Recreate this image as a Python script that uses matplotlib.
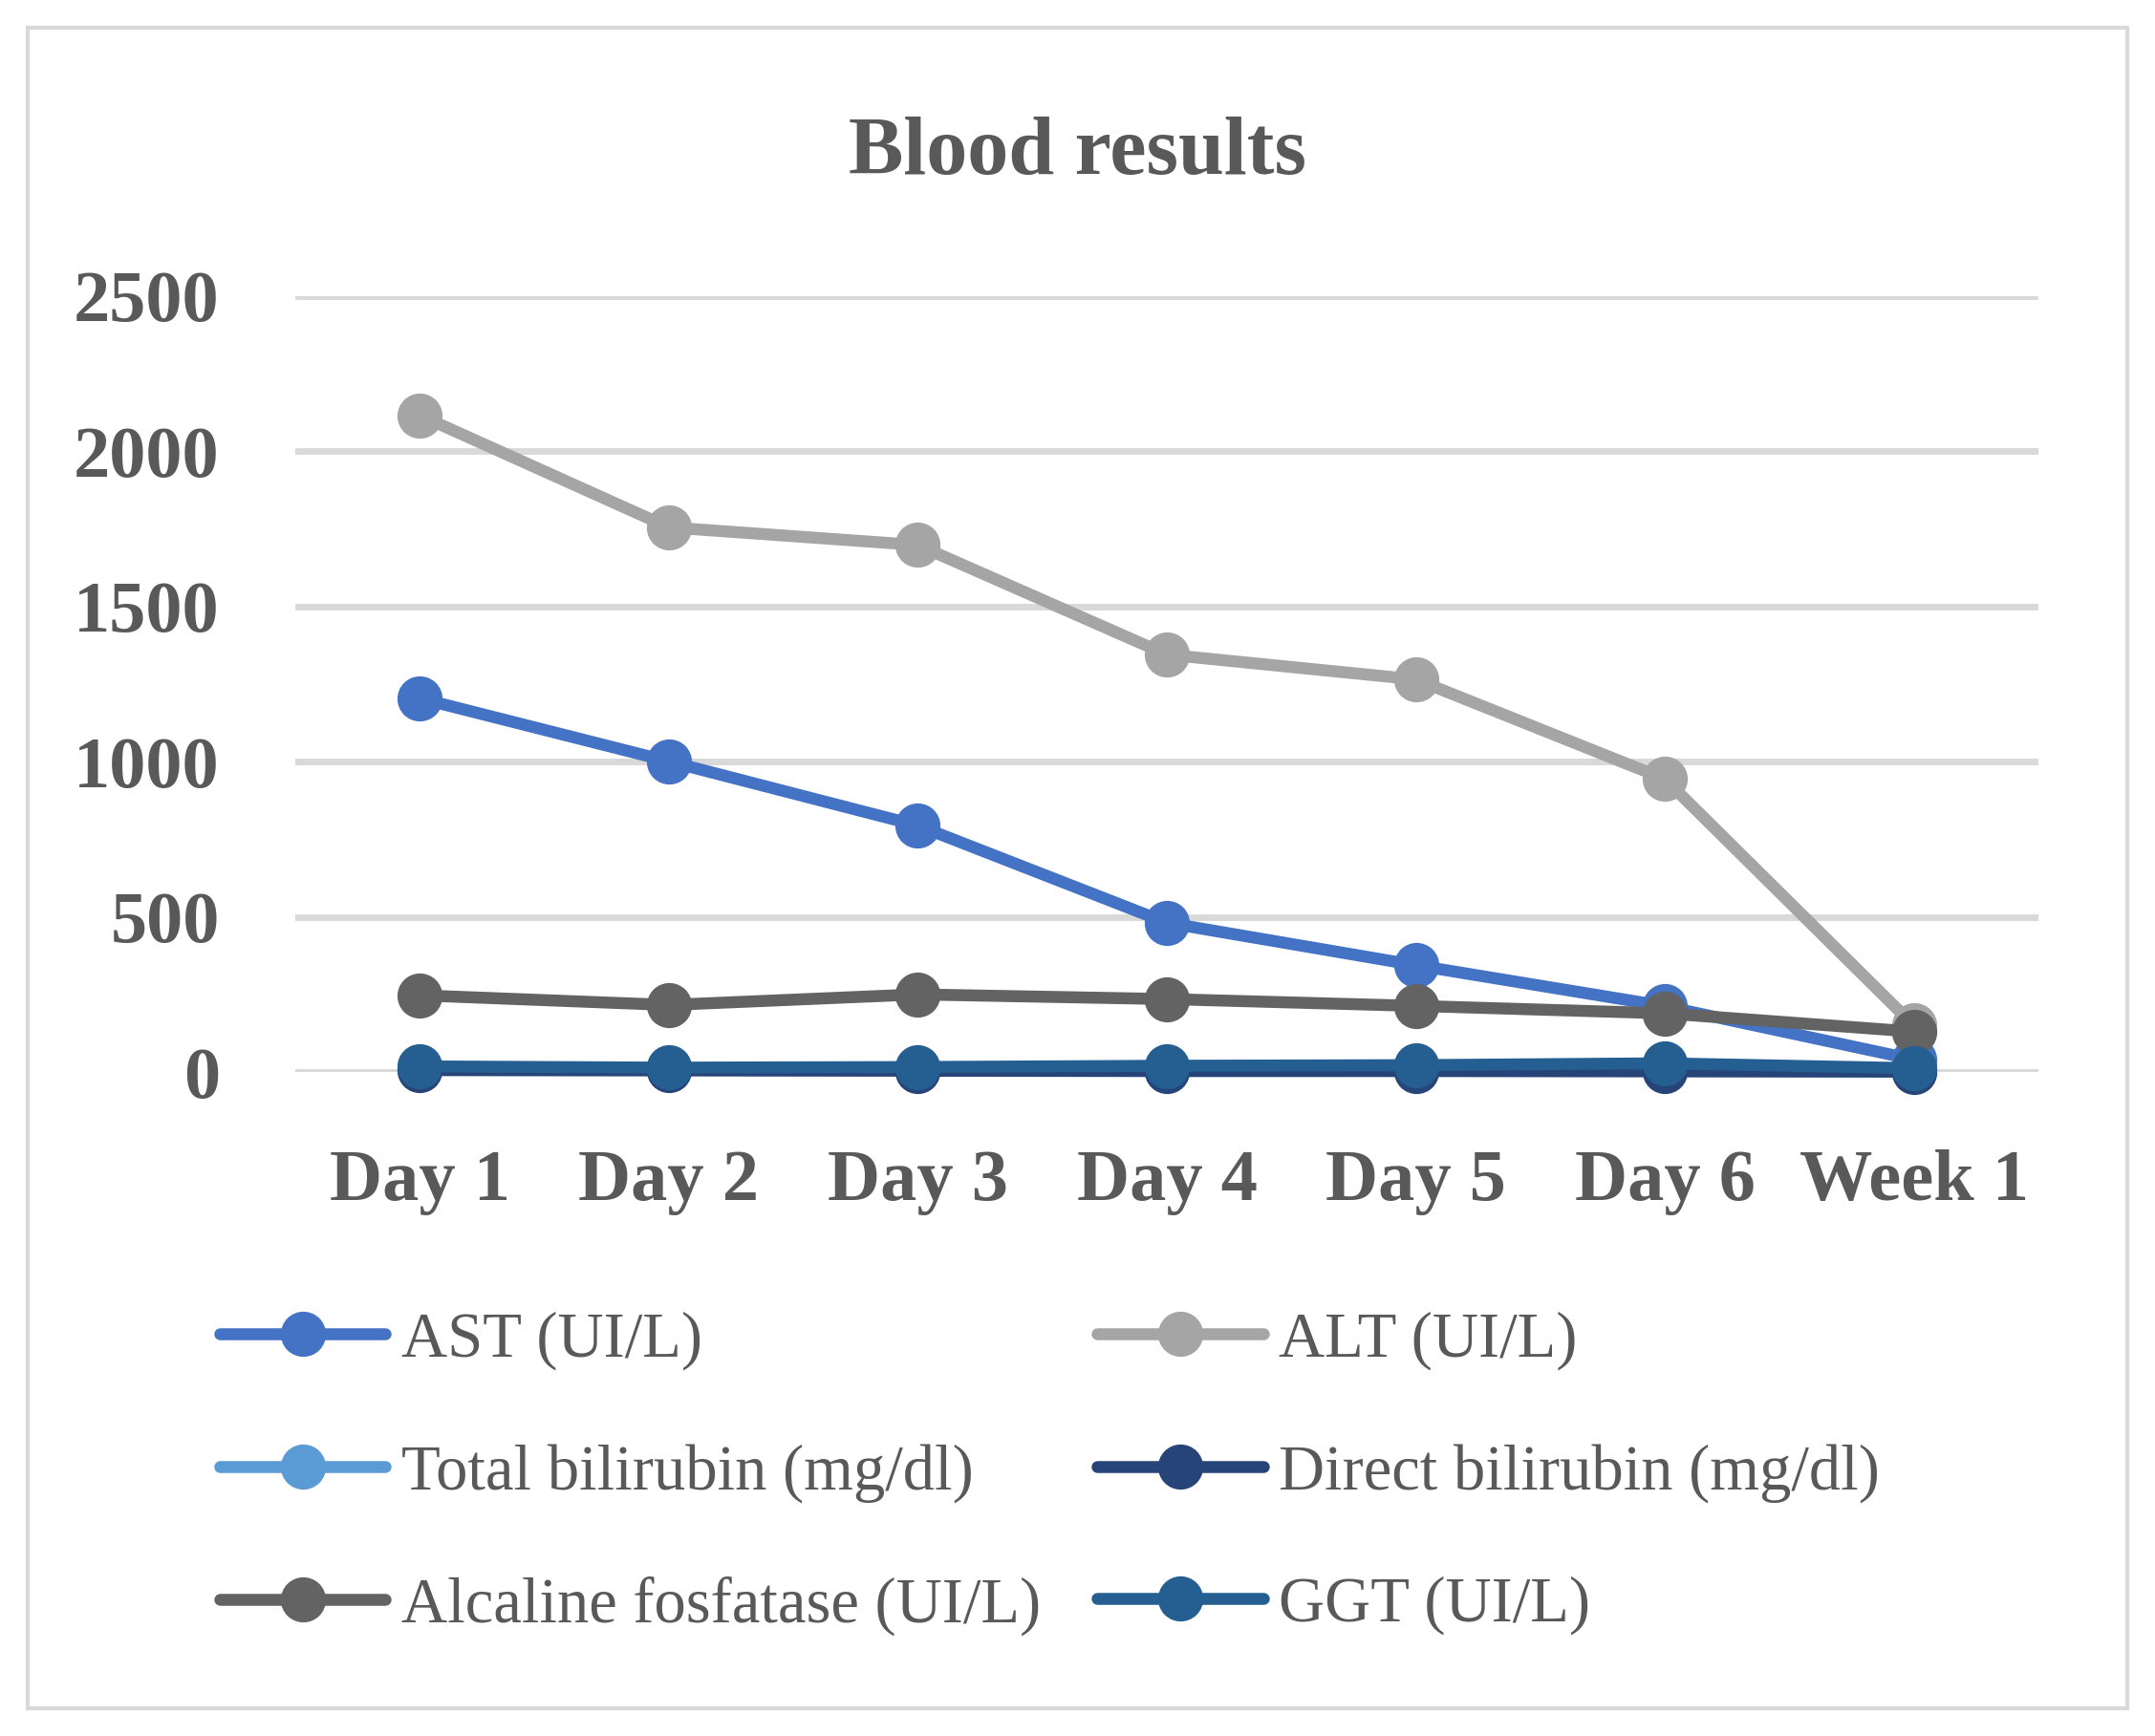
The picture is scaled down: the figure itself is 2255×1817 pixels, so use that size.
import matplotlib.pyplot as plt
from matplotlib.patches import Rectangle

# datos
dias = ['Day 1', 'Day 2', 'Day 3', 'Day 4', 'Day 5', 'Day 6', 'Week 1']
ast = [1204, 1001, 794, 481, 344, 212, 40]
alt = [2116, 1755, 1698, 1345, 1265, 944, 150]
bili_total = [10, 8, 7, 6, 6, 5, 2]
bili_directa = [6, 5, 4, 3, 3, 2, 1]
fosfatasa = [247, 216, 250, 235, 213, 189, 130]
ggt = [18, 14, 16, 20, 22, 28, 12]

series = [
    ('AST (UI/L)', ast, '#4472C4'),
    ('ALT (UI/L)', alt, '#A5A5A5'),
    ('Total bilirubin (mg/dl)', bili_total, '#5B9BD5'),
    ('Direct bilirubin (mg/dl)', bili_directa, '#264478'),
    ('Alcaline fosfatase (UI/L)', fosfatasa, '#636363'),
    ('GGT (UI/L)', ggt, '#255E91'),
]

gris = '#595959'
plt.rcParams['font.family'] = ['Liberation Serif', 'DejaVu Serif']

fig = plt.figure(figsize=(22.55, 18.17), dpi=100)
ax = fig.add_axes([309 / 2255, 1 - 1122 / 1817, 1824 / 2255, 812 / 1817])

x = list(range(len(dias)))
lineas = []
for nombre, valores, color in series:
    l, = ax.plot(x, valores, color=color, lw=9, marker='o', markersize=33,
                 label=nombre, clip_on=False, solid_capstyle='round', zorder=3)
    lineas.append(l)

ax.set_xlim(-0.5, len(dias) - 0.5)
ax.set_ylim(0, 2500)
ax.set_yticks([0, 500, 1000, 1500, 2000, 2500])
ax.set_xticks(x)
ax.set_xticklabels(dias)
ax.yaxis.grid(True, color='#D9D9D9', lw=5)
ax.set_axisbelow(True)
for s in ax.spines.values():
    s.set_visible(False)
ax.tick_params(axis='both', length=0, labelcolor=gris, labelsize=55)
ax.tick_params(axis='y', pad=57)
ax.tick_params(axis='x', pad=58)
for t in ax.get_xticklabels() + ax.get_yticklabels():
    t.set_fontweight('bold')

fig.text(0.5, 1 - 182 / 1817, 'Blood results', ha='center', va='baseline',
         fontsize=62, fontweight='bold', color=gris)

# orden por filas como en Excel
orden = [0, 2, 4, 1, 3, 5]
leg = fig.legend([lineas[i] for i in orden], [series[i][0] for i in orden],
                 ncol=2, loc='center left',
                 bbox_to_anchor=(230 / 2255, 1 - 1542 / 1817),
                 frameon=False, fontsize=48, handlelength=2.6,
                 handletextpad=0.25, columnspacing=0.89, labelspacing=1.15,
                 borderpad=0, borderaxespad=0)
for t in leg.get_texts():
    t.set_color(gris)

fig.patches.append(Rectangle((29 / 2255, 1 - 1788 / 1817), 2197 / 2255, 1759 / 1817,
                             transform=fig.transFigure, fill=False,
                             edgecolor='#D9D9D9', lw=3))

fig.savefig('out.png', dpi=100, facecolor='white')
